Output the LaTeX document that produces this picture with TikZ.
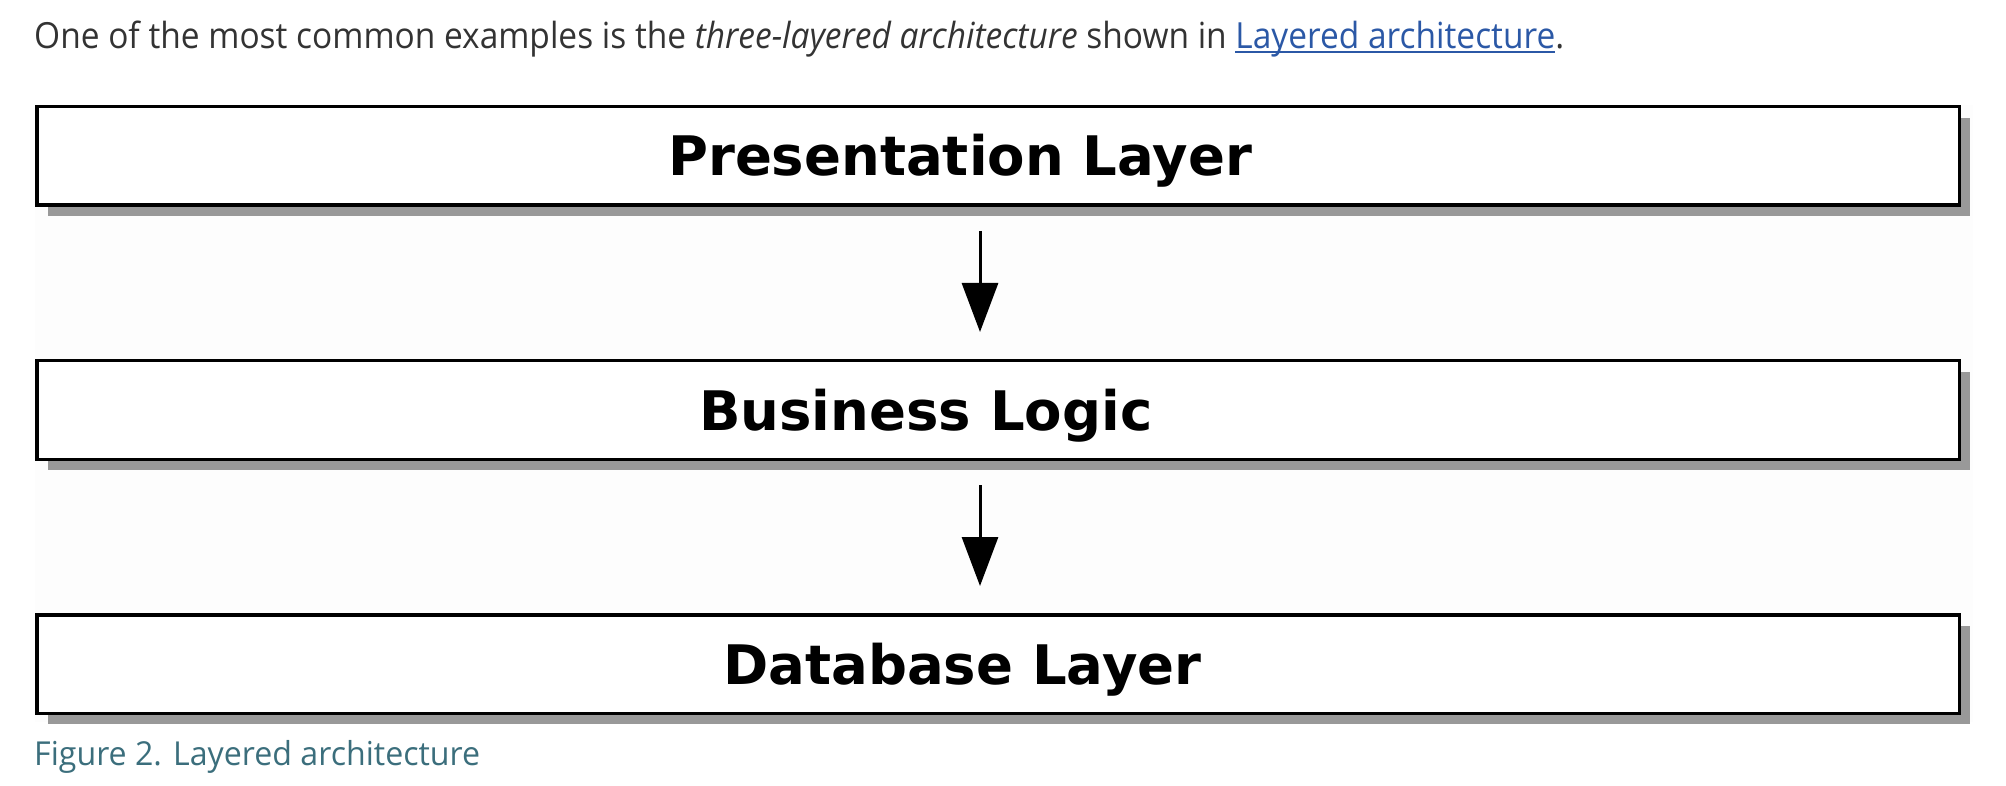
\documentclass[tikz,border=0pt]{standalone}
\usepackage{fontspec}
\usepackage{graphicx}
\setmainfont{Open Sans}
\newfontfamily\dvs{DejaVu Sans}
\usetikzlibrary{arrows.meta,shadows}
\definecolor{txt}{HTML}{333333}
\definecolor{lnk}{HTML}{2B58A6}
\definecolor{capc}{HTML}{3B6E7C}
\definecolor{shd}{HTML}{999999}
\definecolor{bgf}{HTML}{FDFDFD}
\newsavebox\topbox
\newsavebox\lnkbox
\newsavebox\capbox
\begin{document}
\sbox\topbox{\fontsize{36}{43}\selectfont\color{txt}One of the most common examples is the \textit{three-layered architecture} shown in {\color{lnk}\sbox\lnkbox{Layered architecture}\rlap{\rule[-4pt]{\wd\lnkbox}{1.6pt}}\usebox\lnkbox}.}
\sbox\capbox{\fontsize{33}{40}\selectfont\color{capc}Figure 2. Layered architecture}
\begin{tikzpicture}[x=1pt,y=-1pt,
  layerbox/.style={draw=black, line width=3.5pt, fill=white, minimum width=1922.5pt, minimum height=98.5pt, inner sep=0pt,
    drop shadow={shadow xshift=11pt, shadow yshift=-11pt, fill=shd, opacity=1}},
  lbl/.style={anchor=base west, inner sep=0pt, font=\dvs\bfseries\fontsize{54.5}{65}\selectfont},
  arr/.style={line width=3pt, -{Triangle[length=49pt,width=36pt]}, shorten <=24pt, shorten >=27pt}]
\useasboundingbox (0,0) rectangle (2006,786);
\fill[bgf] (35,105) rectangle (1973,722);
\node[anchor=base west, inner sep=0pt] (intro) at (34,49) {\resizebox{1530pt}{\height}{\usebox\topbox}};
\node[layerbox] (p) at (998,156) {};
\node[layerbox] (b) at (998,410) {};
\node[layerbox] (d) at (998,664) {};
\node[lbl] (pt) at (668,176) {Presentation Layer};
\node[lbl] (bt) at (699,430) {Business Logic};
\node[lbl] (dt) at (723,684) {Database Layer};
\draw[arr] ([xshift=-18pt]p.south) -- ([xshift=-18pt]b.north);
\draw[arr] ([xshift=-18pt]b.south) -- ([xshift=-18pt]d.north);
\node[anchor=base west, inner sep=0pt] (fig) at (34,765) {\resizebox{446pt}{\height}{\usebox\capbox}};
\end{tikzpicture}
\end{document}
